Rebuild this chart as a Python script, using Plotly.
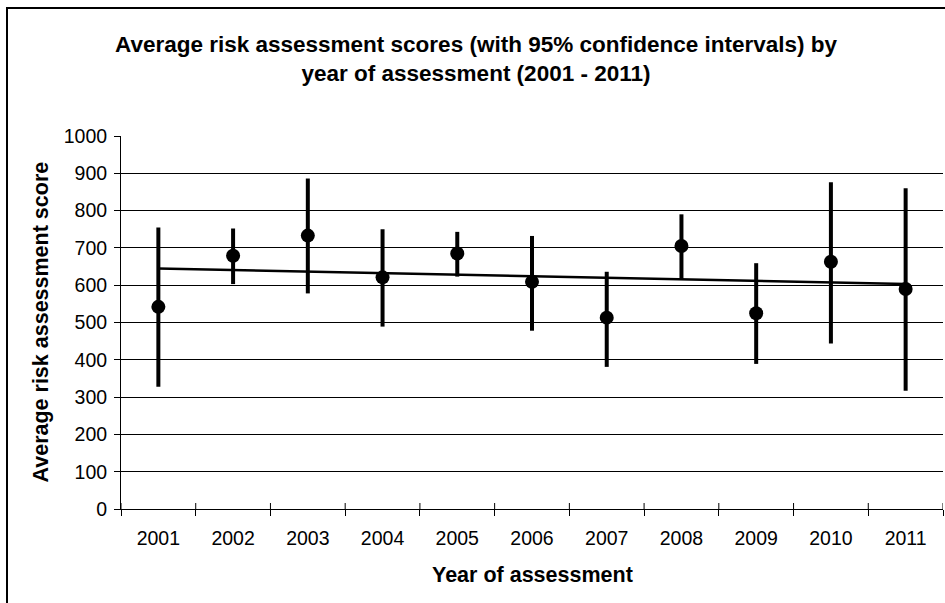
import numpy as np
import plotly.graph_objects as go

# Assessment years and average scores with 95% confidence limits
years = ["2001", "2002", "2003", "2004", "2005", "2006",
         "2007", "2008", "2009", "2010", "2011"]
mean_score = [542, 679, 733, 621, 685, 609, 513, 705, 525, 663, 590]
ci_upper = [755, 752, 886, 750, 743, 732, 636, 790, 659, 876, 860]
ci_lower = [328, 603, 578, 489, 623, 478, 381, 616, 389, 444, 317]
y_ticks = list(range(0, 1001, 100))

W, H = 945, 603
ML, MR, MT, MB = 121, 2, 136, 94
PW, PH = W - ML - MR, H - MT - MB

FONT = "Liberation Sans, Arial, sans-serif"

err_plus = [u - m for u, m in zip(ci_upper, mean_score)]
err_minus = [m - l for m, l in zip(mean_score, ci_lower)]

# Linear trend through the yearly means
idx = np.arange(len(years))
slope, intercept = np.polyfit(idx, mean_score, 1)
trend = slope * idx + intercept

fig = go.Figure()

fig.add_trace(go.Scatter(
    x=years, y=trend, mode="lines",
    line=dict(color="black", width=2.5),
    hoverinfo="skip", showlegend=False,
))

fig.add_trace(go.Scatter(
    x=years, y=mean_score, mode="markers",
    marker=dict(color="black", size=14),
    error_y=dict(type="data", symmetric=False, array=err_plus,
                 arrayminus=err_minus, color="black", thickness=4, width=0),
    showlegend=False,
))


def px_x(p):
    return (p - ML) / PW


def px_y(p):
    return (H - MB - p) / PH


shapes = [
    # chart frame
    dict(type="rect", xref="paper", yref="paper",
         x0=px_x(7), x1=px_x(W + 10), y0=px_y(H + 10), y1=px_y(8),
         line=dict(color="black", width=2), layer="below"),
]
# upper half of the category tick marks that cross the x axis
for k in range(len(years) + 1):
    shapes.append(dict(type="line", xref="x", yref="paper",
                       x0=k - 0.5, x1=k - 0.5, y0=0, y1=6 / PH,
                       line=dict(color="black", width=1)))

annotations = [
    dict(text="Average risk assessment score", textangle=-90,
         xref="paper", yref="paper", x=px_x(40), y=0.5,
         xanchor="center", yanchor="middle", showarrow=False,
         font=dict(family=FONT, size=21.5, color="black", weight="bold")),
    dict(text="Year of assessment",
         xref="paper", yref="paper", x=0.5, y=px_y(575),
         xanchor="center", yanchor="middle", showarrow=False,
         font=dict(family=FONT, size=21.5, color="black", weight="bold")),
]

fig.update_layout(
    width=W, height=H,
    margin=dict(l=ML, r=MR, t=MT, b=MB),
    paper_bgcolor="white", plot_bgcolor="white",
    font=dict(family=FONT, color="black"),
    title=dict(
        text="Average risk assessment scores (with 95% confidence intervals) by<br>"
             "year of assessment (2001 - 2011)",
        x=476 / W, xanchor="center", xref="container",
        y=1 - 52 / H, yanchor="middle", yref="container",
        font=dict(family=FONT, size=22.5, color="black", weight="bold"),
    ),
    xaxis=dict(
        type="category", range=[-0.5, len(years) - 0.5],
        tickson="boundaries", ticks="outside", ticklen=6,
        tickcolor="black", tickwidth=1,
        showline=True, linecolor="black", linewidth=1,
        showgrid=False, zeroline=False, ticklabelstandoff=12,
        tickfont=dict(family=FONT, size=19.5, color="black"),
        fixedrange=True,
    ),
    yaxis=dict(
        range=[0, 1000], tickvals=y_ticks,
        ticks="outside", ticklen=6, tickcolor="black", tickwidth=1,
        showline=True, linecolor="black", linewidth=1,
        showgrid=True, gridcolor="black", gridwidth=1,
        zeroline=False, ticklabelstandoff=3,
        tickfont=dict(family=FONT, size=19.5, color="black"),
        fixedrange=True,
    ),
    shapes=shapes,
    annotations=annotations,
)

fig.write_html("out.html", config={"displayModeBar": False})
